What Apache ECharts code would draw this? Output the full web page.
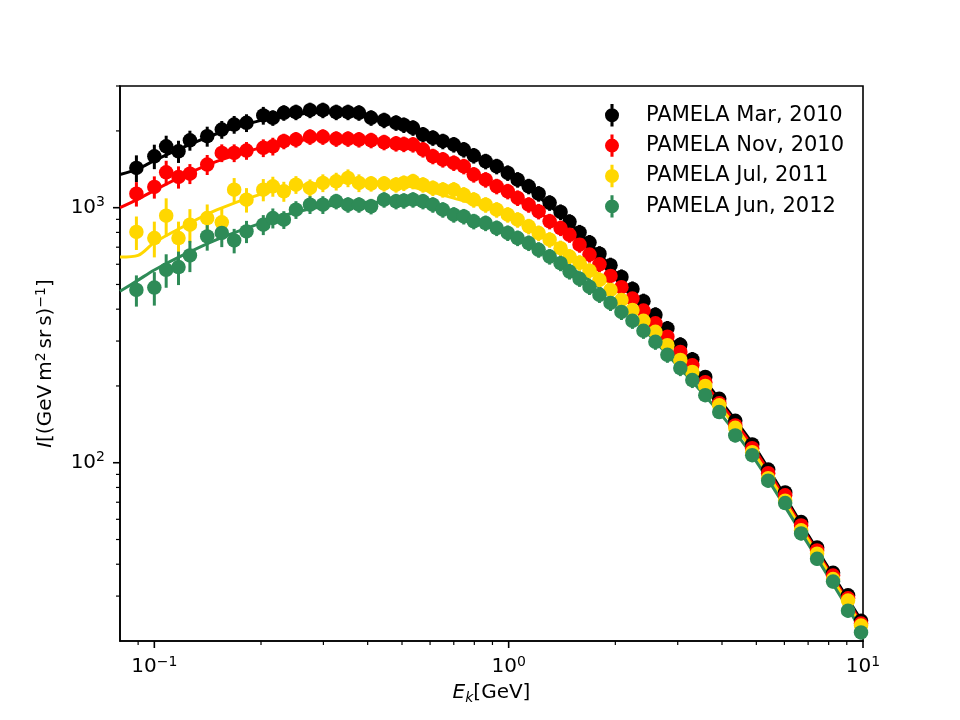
<!DOCTYPE html>
<html>
<head>
<meta charset="utf-8">
<title>PAMELA proton spectra</title>
<script src="https://cdn.jsdelivr.net/npm/echarts@6/dist/echarts.min.js"></script>
<style>
  html, body { margin: 0; padding: 0; background: #fff; }
  #chart { width: 960px; height: 720px; }
</style>
</head>
<body>
<div id="chart"></div>
<script>
// kinetic energy bins (GeV), shared by all four periods
const energy = [
  0.089, 0.100, 0.108, 0.117, 0.126, 0.141, 0.155, 0.168, 0.182, 0.203, 0.216,
  0.232, 0.251, 0.275, 0.299, 0.326, 0.352, 0.378, 0.409, 0.445, 0.481, 0.506,
  0.537, 0.573, 0.611, 0.652, 0.700, 0.747, 0.797, 0.861, 0.925, 0.994,
  1.060, 1.139, 1.215, 1.305, 1.401, 1.485,
  1.585, 1.691, 1.804, 1.938, 2.081, 2.235, 2.401, 2.595, 2.805, 3.051,
  3.298, 3.588, 3.929, 4.360, 4.868, 5.400, 6.030, 6.689, 7.420, 8.232, 9.073, 9.872
]

const fluxMar2010 = [
  1432, 1591, 1741, 1664, 1838, 1906, 2025, 2119, 2152, 2300, 2251,
  2356, 2369, 2412, 2412, 2369, 2369, 2356, 2251, 2203, 2152, 2110,
  2057, 1936, 1879, 1822, 1768, 1690, 1601, 1520, 1453, 1369,
  1288, 1213, 1135, 1045, 962, 880,
  800, 730, 660, 595, 535, 480, 430, 380, 336, 290,
  254, 217, 178, 146, 118, 94, 76.5, 58.5, 46.5, 37, 30.2, 24
]
const fluxNov2010 = [
  1135, 1206, 1376, 1320, 1360, 1476, 1640, 1640, 1675, 1716, 1741,
  1822, 1850, 1896, 1896, 1862, 1862, 1850, 1838, 1805, 1784, 1775,
  1768, 1690, 1591, 1544, 1498, 1453, 1348, 1288, 1213, 1159,
  1092, 1027, 967, 884, 832, 783,
  716, 655, 600, 540, 488, 440, 395, 352, 312, 272,
  241, 207, 171, 140, 114, 91, 74.5, 56.8, 45.3, 36.1, 29.4, 23.4
]
const fluxJul2011 = [
  803, 760, 930, 760, 858, 911, 876, 1177, 1075, 1177, 1213,
  1159, 1231, 1195, 1251, 1269, 1308, 1251, 1243, 1243, 1231, 1250,
  1269, 1231, 1195, 1177, 1177, 1125, 1075, 1027, 982, 939,
  897, 845, 795, 749, 694, 643,
  608, 566, 521, 476, 435, 397, 360, 326, 289, 253,
  227, 200, 168, 137, 110, 87, 71, 54.3, 44, 35, 28.8, 23
]
const fluxJun2012 = [
  476, 486, 571, 585, 650, 771, 796, 744, 807, 858, 911,
  897, 982, 1027, 1027, 1059, 1027, 1027, 1012, 1075, 1059, 1065,
  1075, 1059, 1027, 982, 939, 924, 884, 870, 832, 796,
  760, 727, 684, 643, 606, 562,
  526, 489, 455, 423, 390, 360, 329, 298, 265, 235,
  211, 184, 158, 128, 107, 85, 69.5, 52.8, 42, 34.2, 26.3, 21.6
]

// relative errors (%)
const errMar2010 = [
  12, 11, 10, 10, 9, 9, 8, 8, 8, 8, 7, 7, 7, 7, 7, 7, 7, 7, 7, 7, 7, 7,
  7, 7, 7, 7, 7, 7, 7, 7, 7, 7, 7, 7, 7, 7, 7, 7,
  7, 7, 7, 7, 7, 7, 7, 7, 7, 7, 7, 6, 6, 6, 6, 6, 6, 6, 6, 6, 6, 6
]
const errNov2010 = [
  11, 10, 11, 10, 9, 9, 8, 8, 8, 8, 8, 7, 7, 7, 7, 7, 7, 7, 7, 7, 7, 7,
  7, 7, 7, 7, 7, 7, 7, 7, 7, 7, 7, 7, 7, 7, 7, 7,
  7, 7, 7, 7, 7, 7, 7, 7, 7, 7, 7, 6, 6, 6, 6, 6, 6, 6, 6, 6, 6, 6
]
const errJul2011 = [
  15, 16, 17, 16, 15, 13, 13, 11, 11, 10, 9, 9, 8, 8, 8, 8, 8, 8, 7, 7, 7, 7,
  7, 7, 7, 7, 7, 7, 7, 7, 7, 7, 7, 7, 7, 7, 7, 7,
  7, 7, 7, 7, 7, 7, 7, 7, 7, 7, 7, 6, 6, 6, 6, 6, 6, 6, 6, 6, 6, 6
]
const errJun2012 = [
  14, 15, 15, 15, 14, 12, 12, 11, 10, 9, 9, 8, 8, 8, 8, 7, 7, 7, 7, 7, 7, 7,
  7, 7, 7, 7, 7, 7, 7, 7, 7, 7, 7, 7, 7, 7, 7, 7,
  7, 7, 7, 7, 7, 7, 7, 7, 7, 7, 7, 6, 6, 6, 6, 6, 6, 6, 6, 6, 6, 6
]

// model curves
const modelE = [0.08, 0.09, 0.1, 0.12, 0.15, 0.2, 0.25, 0.3, 0.4, 0.5, 0.7, 1, 1.5, 2, 3, 4, 5, 7, 10]
const modelMar2010 = [1350, 1420, 1530, 1720, 1950, 2200, 2320, 2360, 2260, 2080, 1720, 1340, 860, 560, 285, 172, 113, 52, 23.5]
const modelNov2010 = [1000, 1080, 1170, 1330, 1520, 1720, 1820, 1870, 1830, 1760, 1480, 1120, 790, 540, 275, 168, 110, 51, 23]
const modelJul2011 = [640, 650, 730, 840, 980, 1130, 1210, 1250, 1260, 1230, 1090, 935, 660, 480, 258, 162, 106, 50, 22.5]
const modelJun2012 = [470, 520, 570, 650, 750, 870, 960, 1010, 1050, 1050, 940, 790, 580, 432, 240, 153, 101, 48, 21.5]

const names = ['PAMELA Mar, 2010', 'PAMELA Nov, 2010', 'PAMELA Jul, 2011', 'PAMELA Jun, 2012']
const colors = ['#000000', '#ff0000', '#ffd700', '#2e8b57']

// axis ranges and tick values
const xMin = 0.08
const xMax = 10
const yMin = 20
const yMax = 3000
const xMajorTicks = [0.1, 1, 10]
const xMinorTicks = [0.09, 0.2, 0.3, 0.4, 0.5, 0.6, 0.7, 0.8, 0.9, 2, 3, 4, 5, 6, 7, 8, 9]
const yMajorTicks = [100, 1000]
const yMinorTicks = [30, 40, 50, 60, 70, 80, 90, 200, 300, 400, 500, 600, 700, 800, 900, 2000, 3000]

const FONT = 'DejaVu Sans'
const errIcon = 'path://M3.9,0h2.2v16h-2.2Z M0,8a5,5 0 1,1 10,0a5,5 0 1,1 -10,0Z'

const fluxes = [fluxMar2010, fluxNov2010, fluxJul2011, fluxJun2012]
const errors = [errMar2010, errNov2010, errJul2011, errJun2012]
const models = [modelMar2010, modelNov2010, modelJul2011, modelJun2012]

function powLabel (v) {
  const lg = Math.log10(v)
  const p = Math.round(lg)
  if (Math.abs(lg - p) > 1e-6) return ''
  return '{b|10}{s|' + (p < 0 ? '\u2212' + (-p) : p) + '}'
}

const powRich = {
  b: { fontSize: 20, fontFamily: FONT, color: '#000', lineHeight: 24 },
  s: { fontSize: 14, fontFamily: FONT, color: '#000', lineHeight: 14, verticalAlign: 'top' }
}

function tickSeries (axis, values, len, width) {
  return {
    type: 'custom',
    silent: true,
    clip: false,
    z: 10,
    data: values.map((v) => (axis === 'x' ? [v, yMin] : [xMin, v])),
    renderItem (params, api) {
      const p = api.coord([api.value(0), api.value(1)])
      const shape = axis === 'x'
        ? { x1: p[0], y1: p[1], x2: p[0], y2: p[1] + len }
        : { x1: p[0], y1: p[1], x2: p[0] - len, y2: p[1] }
      return { type: 'line', shape, style: { stroke: '#000', lineWidth: width } }
    }
  }
}

const series = []
names.forEach((name, i) => {
  series.push({
    name: name + ' model',
    type: 'line',
    data: modelE.map((e, j) => [e, models[i][j]]),
    showSymbol: false,
    smooth: 0.3,
    lineStyle: { color: colors[i], width: 3 },
    z: 2
  })
  series.push({
    name: name + ' err',
    type: 'custom',
    silent: true,
    data: energy.map((e, j) => [e, fluxes[i][j], fluxes[i][j] * errors[i][j] / 100]),
    renderItem (params, api) {
      const x = api.value(0)
      const y = api.value(1)
      const d = api.value(2)
      const hi = api.coord([x, y + d])
      const lo = api.coord([x, y - d])
      return {
        type: 'line',
        shape: { x1: hi[0], y1: hi[1], x2: lo[0], y2: lo[1] },
        style: { stroke: colors[i], lineWidth: 3 }
      }
    },
    z: 2
  })
  series.push({
    name,
    type: 'scatter',
    data: energy.map((e, j) => [e, fluxes[i][j]]),
    symbol: 'circle',
    symbolSize: 14.5,
    itemStyle: { color: colors[i], opacity: 1 },
    z: 2
  })
})
series.push(tickSeries('x', xMajorTicks, 7, 1.6))
series.push(tickSeries('x', xMinorTicks, 4, 1.2))
series.push(tickSeries('y', yMajorTicks, 7, 1.6))
series.push(tickSeries('y', yMinorTicks, 4, 1.2))

const chart = echarts.init(document.getElementById('chart'), null, { renderer: 'canvas' })
chart.setOption({
  animation: false,
  backgroundColor: '#fff',
  textStyle: { fontFamily: FONT },
  grid: {
    left: 120, right: 97, top: 86, bottom: 79,
    show: true, borderColor: '#000', borderWidth: 1.6
  },
  legend: {
    orient: 'vertical',
    left: 600,
    top: 99,
    itemWidth: 14,
    itemHeight: 24,
    itemGap: 8,
    textStyle: { fontSize: 21, fontFamily: FONT, color: '#000', padding: [0, 0, 0, 22] },
    data: names.map((n) => ({ name: n, icon: errIcon }))
  },
  xAxis: {
    type: 'log',
    logBase: 10,
    min: xMin,
    max: xMax,
    name: '{i|E}{k|k}{n|[GeV]}',
    nameLocation: 'middle',
    nameGap: 40,
    nameTextStyle: {
      rich: {
        i: { fontSize: 20, fontStyle: 'italic', fontFamily: FONT, color: '#000', lineHeight: 24 },
        k: { fontSize: 14, fontStyle: 'italic', fontFamily: FONT, color: '#000', lineHeight: 14, verticalAlign: 'bottom' },
        n: { fontSize: 20, fontFamily: FONT, color: '#000', lineHeight: 24 }
      }
    },
    axisLine: { show: true, lineStyle: { color: '#000', width: 1.6 } },
    axisTick: { show: false },
    splitLine: { show: false },
    axisLabel: { formatter: powLabel, margin: 14, rich: powRich }
  },
  yAxis: {
    type: 'log',
    logBase: 10,
    min: yMin,
    max: yMax,
    name: '{i|I}{n|[(GeV\u2009m}{s|2}{n|\u2009sr\u2009s)}{s|\u22121}{n|]}',
    nameLocation: 'middle',
    nameRotate: 90,
    nameGap: 62,
    nameTextStyle: {
      rich: {
        i: { fontSize: 20, fontStyle: 'italic', fontFamily: FONT, color: '#000', lineHeight: 24 },
        n: { fontSize: 20, fontFamily: FONT, color: '#000', lineHeight: 24 },
        s: { fontSize: 14, fontFamily: FONT, color: '#000', lineHeight: 14, verticalAlign: 'top' }
      }
    },
    axisLine: { show: true, lineStyle: { color: '#000', width: 1.6 } },
    axisTick: { show: false },
    splitLine: { show: false },
    axisLabel: { formatter: powLabel, margin: 15, rich: powRich }
  },
  series
})
</script>
</body>
</html>
